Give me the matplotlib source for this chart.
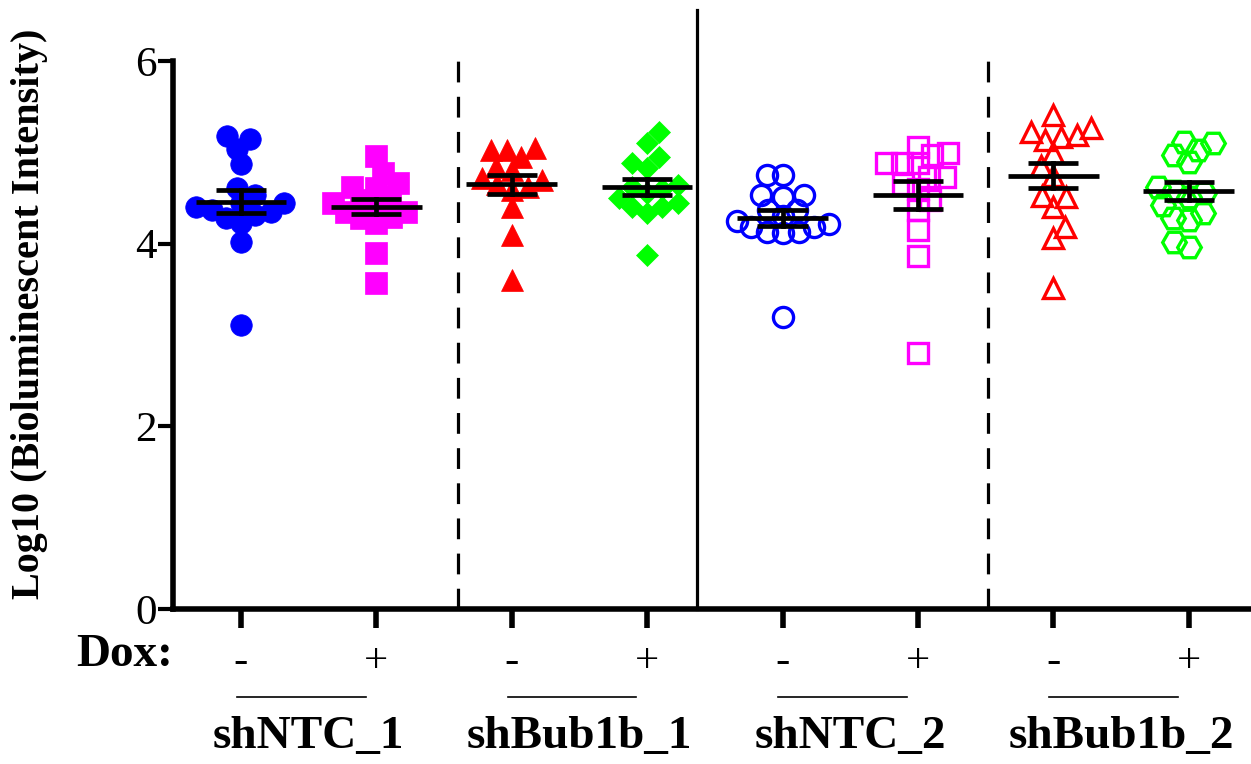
import numpy as np
import matplotlib
matplotlib.use("Agg")
import matplotlib.pyplot as plt
from matplotlib.transforms import blended_transform_factory

plt.rcParams["font.family"] = ["Liberation Serif", "DejaVu Serif"]

# data (Log10 bioluminescent intensity per mouse)
shNTC_1_minus = [5.18, 5.04, 5.15, 4.87, 4.61, 4.53, 4.44, 4.35, 4.37, 4.23, 4.31, 4.02, 3.11, 4.40, 4.28, 4.45]
shNTC_1_plus = [4.96, 4.77, 4.66, 4.62, 4.61, 4.51, 4.48, 4.45, 4.42, 4.35, 4.35, 4.29, 4.28, 4.23, 3.90, 3.57]
shBub1b_1_minus = [5.02, 5.02, 5.05, 4.95, 4.84, 4.81, 4.72, 4.70, 4.65, 4.59, 4.62, 4.40, 4.10, 3.60]
shBub1b_1_plus = [5.22, 5.10, 4.95, 4.88, 4.83, 4.64, 4.62, 4.60, 4.55, 4.50, 4.45, 4.40, 4.40, 4.34, 3.88]
shNTC_2_minus = [4.75, 4.75, 4.53, 4.51, 4.53, 4.37, 4.37, 4.30, 4.25, 4.18, 4.18, 4.13, 4.12, 4.13, 3.20, 4.22]
shNTC_2_plus = [5.06, 4.99, 4.97, 4.88, 4.88, 4.88, 4.73, 4.73, 4.65, 4.60, 4.48, 4.37, 4.15, 3.86, 2.80]
shBub1b_2_minus = [5.41, 5.22, 5.17, 5.27, 5.19, 5.14, 4.99, 4.85, 4.74, 4.52, 4.51, 4.40, 4.18, 4.06, 3.51]
shBub1b_2_plus = [5.11, 5.10, 5.03, 4.97, 4.89, 4.62, 4.55, 4.51, 4.42, 4.34, 4.28, 4.26, 4.02, 3.96, 4.58]

groups = [shNTC_1_minus, shNTC_1_plus, shBub1b_1_minus, shBub1b_1_plus,
          shNTC_2_minus, shNTC_2_plus, shBub1b_2_minus, shBub1b_2_plus]
dox_labels = ["-", "+", "-", "+", "-", "+", "-", "+"]
cell_lines = ["shNTC_1", "shBub1b_1", "shNTC_2", "shBub1b_2"]

colors = ["#0000ff", "#ff00ff", "#ff0000", "#00ff00"] * 2
markers = ["o", "s", "^", "D", "o", "s", "^", "H"]
filled = [True] * 4 + [False] * 4
msizes = [15.5, 15.5, 15.5, 11.5, 14.5, 15.0, 15.0, 17.0]


def swarm(ax, xc, vals, d):
    pts = ax.transData.transform(np.column_stack([np.full(len(vals), xc), vals]))
    ys = pts[:, 1]
    x0 = pts[0, 0]
    offs = np.zeros(len(vals))
    placed = []
    for k, i in enumerate(np.argsort(ys)):
        y = ys[i]
        cands = [0.0]
        for px, py in placed:
            dy = abs(py - y)
            if dy < d:
                dx = np.sqrt(d * d - dy * dy)
                cands += [px - dx, px + dx]
        ok = [c for c in cands
              if all((c - px) ** 2 + (y - py) ** 2 >= d * d - 1e-6 for px, py in placed)]
        sgn = 1 if k % 2 else -1
        best = min(ok, key=lambda c: (round(abs(c), 3), sgn * c))
        offs[i] = best
        placed.append((best, y))
    return ax.transData.inverted().transform(np.column_stack([x0 + offs, ys]))[:, 0]


fig = plt.figure(figsize=(12.51, 7.64), dpi=100)
ax = fig.add_axes([0.1385, 0.2029, 0.8615, 0.7173])
ax.set_xlim(0.5, 8.46)
ax.set_ylim(0, 6)

for i, vals in enumerate(groups):
    xc = i + 1
    xs = swarm(ax, xc, vals, 16)
    if filled[i]:
        ax.plot(xs, vals, ls="none", marker=markers[i], ms=msizes[i],
                color=colors[i], mec=colors[i], mew=0.5, zorder=3)
    else:
        ax.plot(xs, vals, ls="none", marker=markers[i], ms=msizes[i],
                mfc="none", mec=colors[i], mew=2.4, zorder=3)
    v = np.array(vals)
    m = v.mean()
    sem = v.std(ddof=1) / np.sqrt(len(v))
    ax.plot([xc - 0.335, xc + 0.335], [m, m], color="black", lw=3.4, zorder=4,
            solid_capstyle="butt")
    ax.plot([xc - 0.185, xc + 0.185], [m + sem, m + sem], color="black", lw=3.4, zorder=4,
            solid_capstyle="butt")
    ax.plot([xc - 0.185, xc + 0.185], [m - sem, m - sem], color="black", lw=3.4, zorder=4,
            solid_capstyle="butt")
    ax.plot([xc, xc], [m - sem, m + sem], color="black", lw=3.4, zorder=4)

# separators
for xv in [2.6, 6.52]:
    ax.plot([xv, xv], [0, 6], color="black", lw=2.3, dashes=(6.5, 4.5), zorder=1)
ax.plot([4.37, 4.37], [0, 6.56], color="black", lw=2.3, clip_on=False, zorder=1)

for side in ["top", "right"]:
    ax.spines[side].set_visible(False)
ax.spines["left"].set_linewidth(4)
ax.spines["bottom"].set_linewidth(4)

ax.set_yticks([0, 2, 4, 6])
ax.set_yticklabels(["0", "2", "4", "6"], fontsize=31)
ax.tick_params(axis="y", length=11, width=3, pad=1)

ax.set_xticks(range(1, 9))
ax.set_xticklabels(dox_labels, fontsize=31)
ax.tick_params(axis="x", length=14, width=4, pad=10)

fig.text(76 / 1251, 1 - 655 / 764, "Dox:", fontsize=34, fontweight="bold",
         ha="left", va="center")

fig.text(30 / 1251, 1 - 314 / 764, "Log10 (Bioluminescent Intensity)", fontsize=29,
         fontweight="bold", rotation=90, ha="center", va="center")

trans = blended_transform_factory(ax.transData, fig.transFigure)
for j, name in enumerate(cell_lines):
    cx = 2 * j + 1.5
    ax.plot([cx - 0.53, cx + 0.42], [1 - 697 / 764] * 2, color="black", lw=1.2,
            transform=trans, clip_on=False)
    ax.text(cx, 1 - 737 / 764, name, transform=trans, fontsize=34, fontweight="bold",
            ha="center", va="center")

fig.savefig("out.png", dpi=100)
